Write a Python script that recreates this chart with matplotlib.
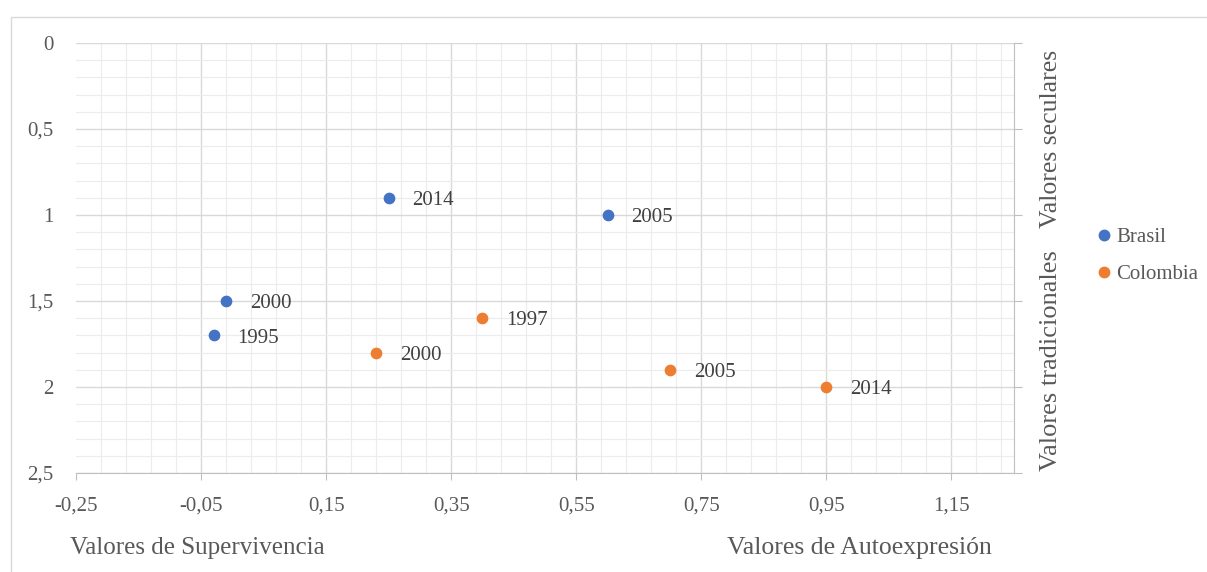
import matplotlib.pyplot as plt
import numpy as np
from matplotlib.ticker import FixedLocator, FuncFormatter
from matplotlib.lines import Line2D
from matplotlib.patches import Rectangle

plt.rcParams['font.family'] = ['Liberation Serif', 'DejaVu Serif']

# data
brasil_years = ['2014', '2005', '2000', '1995']
brasil_x = [0.25, 0.60, -0.01, -0.03]
brasil_y = [0.90, 1.00, 1.50, 1.70]

colombia_years = ['1997', '2000', '2005', '2014']
colombia_x = [0.40, 0.23, 0.70, 0.95]
colombia_y = [1.60, 1.80, 1.90, 2.00]

blue = '#4472C4'
orange = '#ED7D31'
txt = '#404040'
grey = '#595959'

fig = plt.figure(figsize=(12.07, 5.72), dpi=100)
ax = fig.add_axes([76 / 1207, 1 - 473 / 572, (1014 - 76) / 1207, (473 - 43) / 572])

ax.scatter(brasil_x, brasil_y, s=55, color=blue, zorder=3)
ax.scatter(colombia_x, colombia_y, s=55, color=orange, zorder=3)
for xs, ys, labs in [(brasil_x, brasil_y, brasil_years),
                     (colombia_x, colombia_y, colombia_years)]:
    for x, y, lab in zip(xs, ys, labs):
        ax.annotate(lab, (x, y), xytext=(17, -2), textcoords='offset points',
                    va='center', ha='left', fontsize=15, color=txt)

ax.set_xlim(-0.25, 1.25)
ax.set_ylim(2.5, 0)

xmaj = np.round(np.arange(-0.25, 1.16, 0.2), 2)
xmin = np.round(np.arange(-0.25, 1.251, 0.04), 2)
ax.xaxis.set_major_locator(FixedLocator(xmaj))
ax.xaxis.set_minor_locator(FixedLocator(xmin))
ax.yaxis.set_major_locator(FixedLocator(np.arange(0, 2.51, 0.5)))
ax.yaxis.set_minor_locator(FixedLocator(np.round(np.arange(0, 2.51, 0.1), 2)))
ax.xaxis.set_major_formatter(FuncFormatter(lambda v, p: '{:.2f}'.format(v).replace('.', ',')))
ax.yaxis.set_major_formatter(FuncFormatter(lambda v, p: '{:g}'.format(v).replace('.', ',')))

ax.grid(which='major', color='#d9d9d9', linewidth=1.0)
ax.grid(which='minor', color='#ececec', linewidth=0.8)
ax.set_axisbelow(True)
ax.xaxis.get_gridlines()[0].set_visible(False)

for s in ['top', 'left']:
    ax.spines[s].set_visible(False)
for s in ['bottom', 'right']:
    ax.spines[s].set_color('#bfbfbf')

ax.tick_params(axis='x', which='major', direction='out', length=5, color='#bfbfbf',
               labelsize=15, labelcolor=grey, pad=12)
ax.tick_params(axis='y', which='major', left=False, right=True, labelleft=True,
               labelright=False, direction='out', length=6, color='#bfbfbf',
               labelsize=15, labelcolor=grey, pad=10)
ax.tick_params(which='minor', length=0)

fig.text(70 / 1207, 1 - 548 / 572, 'Valores de Supervivencia', fontsize=18,
         color=grey, ha='left', va='center')
fig.text(992 / 1207, 1 - 548 / 572, 'Valores de Autoexpresión', fontsize=18.5,
         color=grey, ha='right', va='center')
fig.text(1051 / 1207, 1 - 139 / 572, 'Valores seculares', fontsize=18.5,
         color=grey, rotation=90, ha='center', va='center')
fig.text(1051 / 1207, 1 - 361 / 572, 'Valores tradicionales', fontsize=19,
         color=grey, rotation=90, ha='center', va='center')

handles = [Line2D([], [], marker='o', linestyle='', color=blue, markersize=7.5),
           Line2D([], [], marker='o', linestyle='', color=orange, markersize=7.5)]
leg = fig.legend(handles, ['Brasil', 'Colombia'], loc='center left',
                 bbox_to_anchor=(1083 / 1207, 1 - 256 / 572), frameon=False,
                 fontsize=15, handletextpad=0.1, handlelength=1.0,
                 labelspacing=0.85, borderpad=0)
for t in leg.get_texts():
    t.set_color(grey)

fig.patches.append(Rectangle((11 / 1207, -0.01), 1.2, 1 - 17 / 572 + 0.01,
                             transform=fig.transFigure, fill=False,
                             edgecolor='#d9d9d9', linewidth=1.0))

fig.savefig('out.png', dpi=100)
